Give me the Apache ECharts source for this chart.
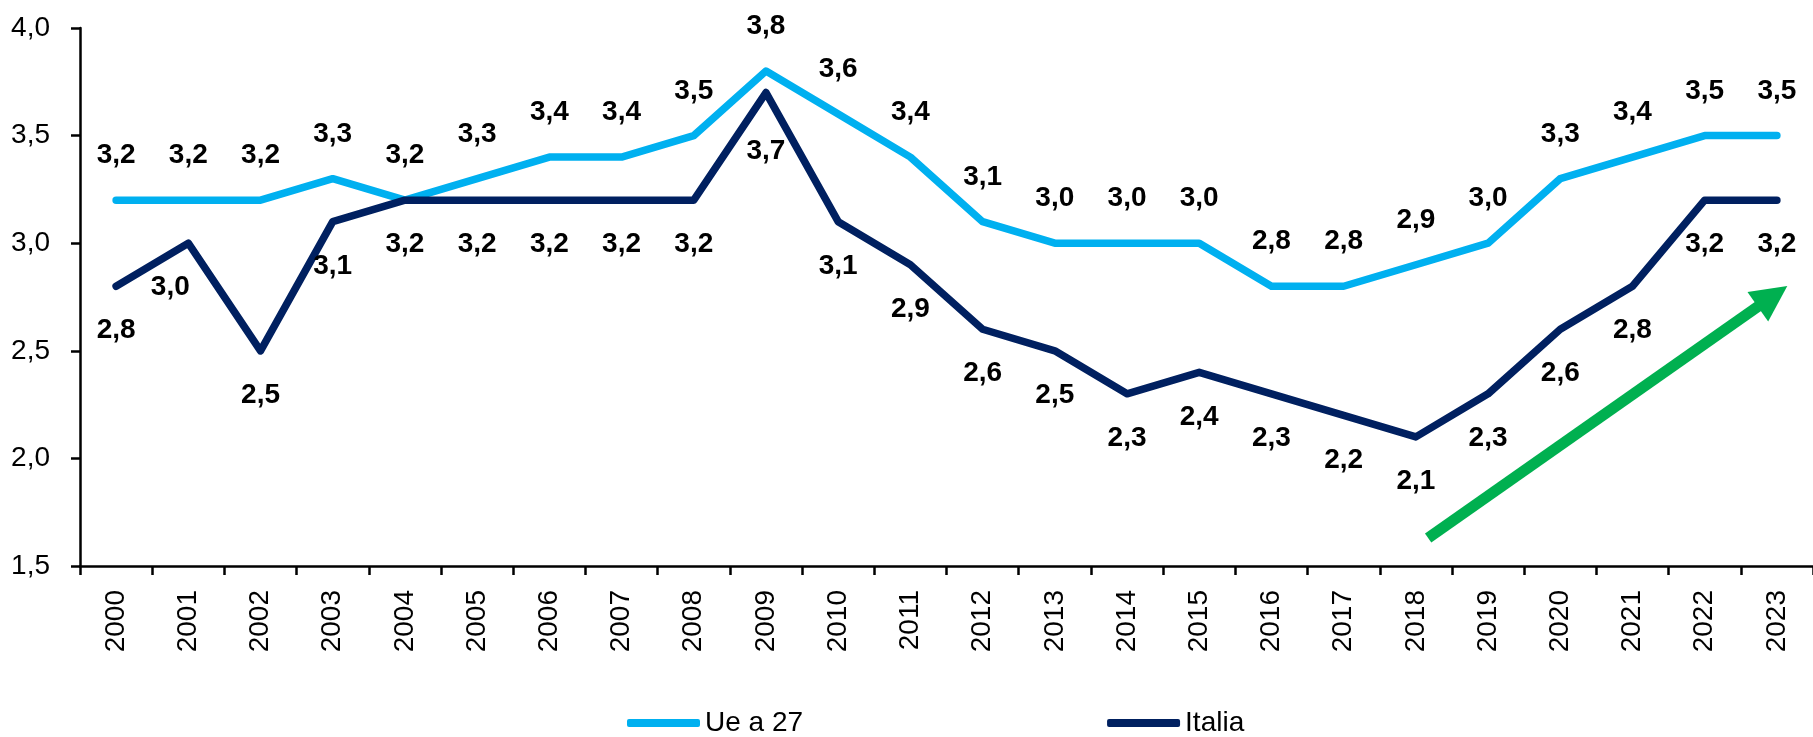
<!DOCTYPE html>
<html>
<head>
<meta charset="utf-8">
<script src="https://cdn.jsdelivr.net/npm/echarts@6/dist/echarts.min.js"></script>
<style>
  html, body { margin: 0; padding: 0; background: #fff; }
  #chart { width: 1813px; height: 737px; }
</style>
</head>
<body>
<div id="chart"></div>
<script>
// Years on the horizontal axis
const years = ['2000','2001','2002','2003','2004','2005','2006','2007','2008','2009','2010','2011',
               '2012','2013','2014','2015','2016','2017','2018','2019','2020','2021','2022','2023'];
// EU-27 series
const ueValues = [3.2, 3.2, 3.2, 3.3, 3.2, 3.3, 3.4, 3.4, 3.5, 3.8, 3.6, 3.4,
                  3.1, 3.0, 3.0, 3.0, 2.8, 2.8, 2.9, 3.0, 3.3, 3.4, 3.5, 3.5];
// Italy series
const itValues = [2.8, 3.0, 2.5, 3.1, 3.2, 3.2, 3.2, 3.2, 3.2, 3.7, 3.1, 2.9,
                  2.6, 2.5, 2.3, 2.4, 2.3, 2.2, 2.1, 2.3, 2.6, 2.8, 3.2, 3.2];
// Value axis range and step
const yMin = 1.5, yMax = 4.0, yStep = 0.5;
// Trend arrow on a continuous year scale (0 = left edge of 2000, 24 = right edge of 2023)
const trendArrow = [[18.67, 1.63], [23.44, 2.753]];

// Nudges for labels that sit off their default place
const itLabelNudge = { 1: [-18, 0], 9: [0, 14] };

const FONT = '"Liberation Sans Narrow", "Arial Narrow", "Noto Sans Condensed", "Liberation Sans", Arial, sans-serif';
const fmt = v => v.toFixed(1).replace('.', ',');

const withNudges = (values, nudges) => values.map((v, i) =>
  nudges[i] ? { value: v, label: { offset: nudges[i] } } : v);

const chart = echarts.init(document.getElementById('chart'), null, { renderer: 'canvas' });

const labelStyle = {
  show: true, distance: 30,
  fontSize: 28, fontWeight: 'bold', color: '#000', fontFamily: FONT,
  formatter: p => fmt(typeof p.value === 'number' ? p.value : p.data.value)
};

chart.setOption({
  animation: false,
  backgroundColor: '#ffffff',
  textStyle: { fontFamily: FONT },
  grid: { left: 80, right: -2, top: 28, bottom: 171, containLabel: false },
  legend: {
    left: 627,
    top: 709,
    padding: 0,
    itemWidth: 73,
    itemHeight: 8,
    itemGap: 304,
    icon: 'roundRect',
    textStyle: { fontFamily: FONT, fontSize: 28, color: '#000' },
    data: ['Ue a 27', 'Italia']
  },
  xAxis: [
    {
      type: 'category',
      data: years,
      boundaryGap: true,
      axisLine: { lineStyle: { color: '#000', width: 2.5 } },
      axisTick: { show: true, length: 9, lineStyle: { color: '#000', width: 2.5 } },
      axisLabel: { rotate: 90, margin: 24, fontSize: 28, color: '#000', fontFamily: FONT, interval: 0 },
      splitLine: { show: false }
    },
    {
      // continuous companion scale for the trend arrow
      type: 'value', min: 0, max: 24, show: false, position: 'bottom'
    }
  ],
  yAxis: {
    type: 'value',
    min: yMin,
    max: yMax,
    interval: yStep,
    axisLine: { show: true, lineStyle: { color: '#000', width: 2.5 } },
    axisTick: { show: true, length: 9, lineStyle: { color: '#000', width: 2.5 } },
    axisLabel: { margin: 30, fontSize: 28, color: '#000', fontFamily: FONT, formatter: fmt },
    splitLine: { show: false }
  },
  series: [
    {
      name: 'Ue a 27',
      type: 'line',
      data: ueValues,
      symbol: 'circle',
      symbolSize: 1,
      showSymbol: true,
      color: '#00B0F0',
      itemStyle: { color: '#00B0F0' },
      lineStyle: { width: 7.5, color: '#00B0F0', cap: 'round', join: 'round' },
      label: Object.assign({ position: 'top' }, labelStyle),
      z: 3
    },
    {
      name: 'Italia',
      type: 'line',
      data: withNudges(itValues, itLabelNudge),
      symbol: 'circle',
      symbolSize: 1,
      showSymbol: true,
      color: '#002060',
      itemStyle: { color: '#002060' },
      lineStyle: { width: 7.5, color: '#002060', cap: 'round', join: 'round' },
      label: Object.assign({ position: 'bottom' }, labelStyle),
      z: 4
    },
    {
      name: 'trend',
      type: 'line',
      xAxisIndex: 1,
      data: trendArrow,
      showSymbol: false,
      symbol: 'none',
      lineStyle: { opacity: 0 },
      silent: true,
      markLine: {
        silent: true,
        symbol: ['none', 'triangle'],
        symbolSize: 36,
        label: { show: false },
        lineStyle: { color: '#00B050', width: 11, type: 'solid', opacity: 1 },
        data: [[{ coord: trendArrow[0] }, { coord: trendArrow[1] }]]
      },
      z: 5
    }
  ]
});
</script>
</body>
</html>
